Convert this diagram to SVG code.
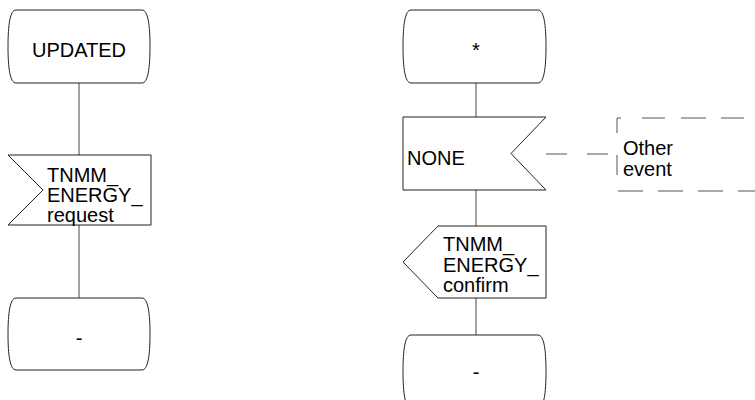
<svg xmlns="http://www.w3.org/2000/svg" width="755" height="400" viewBox="0 0 755 400">
<style>
.s{fill:#fff;stroke:#222;stroke-width:1}
.t{font-family:"Liberation Sans",Arial,sans-serif;font-size:20px;fill:#000}
.c{fill:none;stroke:#444;stroke-width:1}
.d{fill:none;stroke:#555;stroke-width:1;stroke-dasharray:23 17}
</style>
<g id="connectors">
<line class="c" x1="79" y1="83" x2="79" y2="155"/>
<line class="c" x1="79" y1="225" x2="79" y2="298"/>
<line class="c" x1="476" y1="83" x2="476" y2="117"/>
<line class="c" x1="476" y1="190" x2="476" y2="226"/>
<line class="c" x1="476" y1="298" x2="476" y2="335"/>
<line class="d" x1="546" y1="154" x2="617" y2="154" style="stroke-dasharray:21 20"/>
</g>
<g id="state-updated">
<path class="s" d="M16,10 H142 C148,10 150,25 150,46.5 C150,68 148,83 142,83 H16 C10,83 8,68 8,46.5 C8,25 10,10 16,10 Z"/>
<text class="t" x="79" y="57" text-anchor="middle">UPDATED</text>
</g>
<g id="input-request">
<path class="s" d="M8,155 H151 V225 H8 L43,190 Z"/>
<text class="t" x="47" y="182">TNMM_</text>
<text class="t" x="47" y="202">ENERGY_</text>
<text class="t" x="47" y="222">request</text>
</g>
<g id="state-dash-left">
<path class="s" d="M16,298 H142 C148,298 150,313 150,334 C150,355 148,370 142,370 H16 C10,370 8,355 8,334 C8,313 10,298 16,298 Z"/>
<text class="t" x="79" y="344.5" text-anchor="middle">-</text>
</g>
<g id="state-star">
<path class="s" d="M411,10 H538 C544,10 546,25 546,46.5 C546,68 544,83 538,83 H411 C405,83 403,68 403,46.5 C403,25 405,10 411,10 Z"/>
<text class="t" x="476" y="57" text-anchor="middle">*</text>
</g>
<g id="input-none">
<path class="s" d="M403,117 H546 L511,153.5 L546,190 H403 Z"/>
<text class="t" x="407" y="165">NONE</text>
</g>
<g id="comment-other-event">
<path class="d" d="M617,133 V118 H760" style="stroke-dasharray:19 21 23 16 25 15 23 17 23 40"/>
<line class="d" x1="617" y1="155" x2="617" y2="176" style="stroke-dasharray:20 40"/>
<line class="d" x1="618" y1="191" x2="760" y2="191" style="stroke-dasharray:25 15"/>
<text class="t" x="623" y="155">Other</text>
<text class="t" x="623" y="176">event</text>
</g>
<g id="output-confirm">
<path class="s" d="M438,226 H546 V298 H438 L403,262 Z"/>
<text class="t" x="443" y="251">TNMM_</text>
<text class="t" x="443" y="271.5">ENERGY_</text>
<text class="t" x="443" y="292">confirm</text>
</g>
<g id="state-dash-right">
<path class="s" d="M411,335 H538 C544,335 546,350 546,371.5 C546,393 544,408 538,408 H411 C405,408 403,393 403,371.5 C403,350 405,335 411,335 Z"/>
<text class="t" x="476" y="379" text-anchor="middle">-</text>
</g>
</svg>
